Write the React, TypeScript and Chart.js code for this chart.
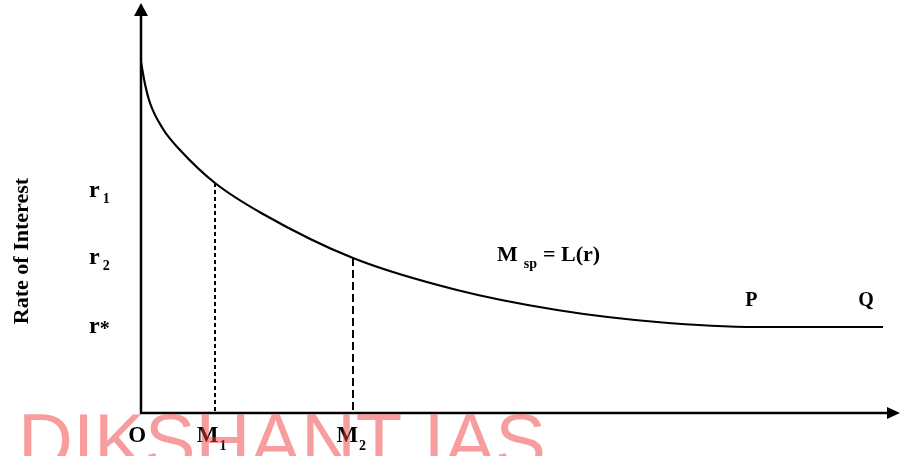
import { useEffect, useRef } from "react";
import { Chart, registerables } from "chart.js";

Chart.register(...registerables);

// Liquidity preference curve (x: money demand, y: rate of interest)
const curveX = [0, 0.527, 1.186, 2.899, 5.138, 9.75, 16.07, 27.93, 41.63, 54.81, 67.98, 81.16, 97.76];
const curveY = [85.61, 80.24, 75.61, 69.27, 64.15, 56.1, 48.54, 37.8, 30.0, 25.12, 22.2, 20.98, 20.98];

// Dashed drop lines
const m1 = { x: 9.75, y: 56.1 };
const m2 = { x: 27.93, y: 37.8 };

// Y tick labels
const yTickValues = [54.2, 37.8, 21];
const yTickMain = ["r", "r", "r"];
const yTickSub = ["1", "2", ""];
const yTickSup = ["", "", "*"];

// X tick labels
const xTickValues = [-0.5, 9.3, 27.7];
const xTickMain = ["O", "M", "M"];
const xTickSub = ["", "1", "2"];

// Annotations
const curveLabel = { x: 46.9, y: 37.0 };
const pLabel = { x: 79.6, y: 26.0, text: "P" };
const qLabel = { x: 94.5, y: 26.0, text: "Q" };

const SERIF = '"Liberation Serif", "Times New Roman", serif';

const overlayPlugin = {
  id: "overlay",
  afterDatasetsDraw(chart: any) {
    const { ctx } = chart;
    const xs = chart.scales.x;
    const ys = chart.scales.y;
    const x0 = xs.getPixelForValue(0);
    const y0 = ys.getPixelForValue(0);
    const top = chart.chartArea.top;
    const right = chart.chartArea.right;
    ctx.save();
    ctx.strokeStyle = "#000";
    ctx.fillStyle = "#000";
    ctx.lineWidth = 2.5;
    // y axis
    ctx.beginPath();
    ctx.moveTo(x0, y0 + 1);
    ctx.lineTo(x0, top + 10);
    ctx.stroke();
    ctx.beginPath();
    ctx.moveTo(x0, top);
    ctx.lineTo(x0 - 7, top + 13);
    ctx.lineTo(x0 + 7, top + 13);
    ctx.closePath();
    ctx.fill();
    // x axis
    ctx.beginPath();
    ctx.moveTo(x0 - 1, y0);
    ctx.lineTo(right - 10, y0);
    ctx.stroke();
    ctx.beginPath();
    ctx.moveTo(right, y0);
    ctx.lineTo(right - 13, y0 - 6);
    ctx.lineTo(right - 13, y0 + 6);
    ctx.closePath();
    ctx.fill();

    ctx.textBaseline = "alphabetic";
    // y tick labels
    for (let i = 0; i < yTickValues.length; i++) {
      const py = ys.getPixelForValue(yTickValues[i]);
      const lx = 89;
      ctx.font = `bold 24px ${SERIF}`;
      ctx.textAlign = "left";
      ctx.fillText(yTickMain[i], lx, py + 6);
      const w = ctx.measureText(yTickMain[i]).width;
      if (yTickSub[i]) {
        ctx.font = `bold 14px ${SERIF}`;
        ctx.fillText(yTickSub[i], lx + w + 3, py + 12);
      }
      if (yTickSup[i]) {
        ctx.font = `bold 20px ${SERIF}`;
        ctx.fillText(yTickSup[i], lx + w, py + 8);
      }
    }
    // x tick labels
    for (let i = 0; i < xTickValues.length; i++) {
      const px = xs.getPixelForValue(xTickValues[i]);
      ctx.font = `bold 23px ${SERIF}`;
      const w = ctx.measureText(xTickMain[i]).width;
      let sw = 0;
      if (xTickSub[i]) {
        ctx.font = `bold 14px ${SERIF}`;
        sw = ctx.measureText(xTickSub[i]).width + 1;
      }
      const start = px - (w + sw) / 2;
      ctx.font = `bold 23px ${SERIF}`;
      ctx.textAlign = "left";
      ctx.fillText(xTickMain[i], start, y0 + 29);
      if (xTickSub[i]) {
        ctx.font = `bold 14px ${SERIF}`;
        ctx.fillText(xTickSub[i], start + w + 1, y0 + 37);
      }
    }
    // axis title
    ctx.save();
    ctx.translate(28, ys.getPixelForValue(39.5));
    ctx.rotate(-Math.PI / 2);
    ctx.font = `bold 22px ${SERIF}`;
    ctx.textAlign = "center";
    ctx.fillText("Rate of Interest", 0, 0);
    ctx.restore();

    // curve label
    {
      const px = xs.getPixelForValue(curveLabel.x);
      const py = ys.getPixelForValue(curveLabel.y);
      ctx.textAlign = "left";
      ctx.font = `bold 22px ${SERIF}`;
      ctx.fillText("M", px, py);
      const w = ctx.measureText("M").width;
      ctx.font = `bold 14px ${SERIF}`;
      ctx.fillText("sp", px + w + 6, py + 7);
      const sw = ctx.measureText("sp").width;
      ctx.font = `bold 22px ${SERIF}`;
      ctx.fillText("= L(r)", px + w + 6 + sw + 6, py);
    }
    for (const lab of [pLabel, qLabel]) {
      ctx.font = `bold 20px ${SERIF}`;
      ctx.textAlign = "left";
      ctx.fillText(lab.text, xs.getPixelForValue(lab.x), ys.getPixelForValue(lab.y));
    }

    // watermark
    ctx.font = '76px "Liberation Sans", Arial, sans-serif';
    ctx.fillStyle = "rgba(240, 60, 60, 0.5)";
    ctx.textAlign = "left";
    ctx.fillText("DIKSHANT IAS", 18, 467);
    ctx.restore();
  },
};

export default function App() {
  const ref = useRef<HTMLCanvasElement | null>(null);
  useEffect(() => {
    if (!ref.current) return;
    const curve = curveX.map((x, i) => ({ x, y: curveY[i] }));
    const chart = new Chart(ref.current, {
      type: "scatter",
      data: {
        datasets: [
          {
            data: curve,
            showLine: true,
            borderColor: "#000",
            borderWidth: 2.2,
            pointRadius: 0,
            cubicInterpolationMode: "monotone",
          } as any,
          {
            data: [
              { x: m1.x, y: m1.y },
              { x: m1.x, y: 0 },
            ],
            showLine: true,
            borderColor: "#000",
            borderWidth: 2,
            borderDash: [4, 3],
            pointRadius: 0,
          } as any,
          {
            data: [
              { x: m2.x, y: m2.y },
              { x: m2.x, y: 0 },
            ],
            showLine: true,
            borderColor: "#000",
            borderWidth: 2,
            borderDash: [8, 4],
            pointRadius: 0,
          } as any,
        ],
      },
      options: {
        animation: false,
        responsive: false,
        layout: { padding: { left: 141, right: 6, top: 3, bottom: 43 } },
        plugins: { legend: { display: false }, tooltip: { enabled: false } },
        scales: {
          x: { type: "linear", min: 0, max: 100, display: false },
          y: { type: "linear", min: 0, max: 100, display: false },
        },
      },
      plugins: [overlayPlugin],
    });
    return () => chart.destroy();
  }, []);
  return (
    <div style={{ position: "absolute", left: 0, top: 0, width: 906, height: 456, background: "#fff" }}>
      <canvas ref={ref} width={906} height={456} style={{ display: "block" }} />
    </div>
  );
}
